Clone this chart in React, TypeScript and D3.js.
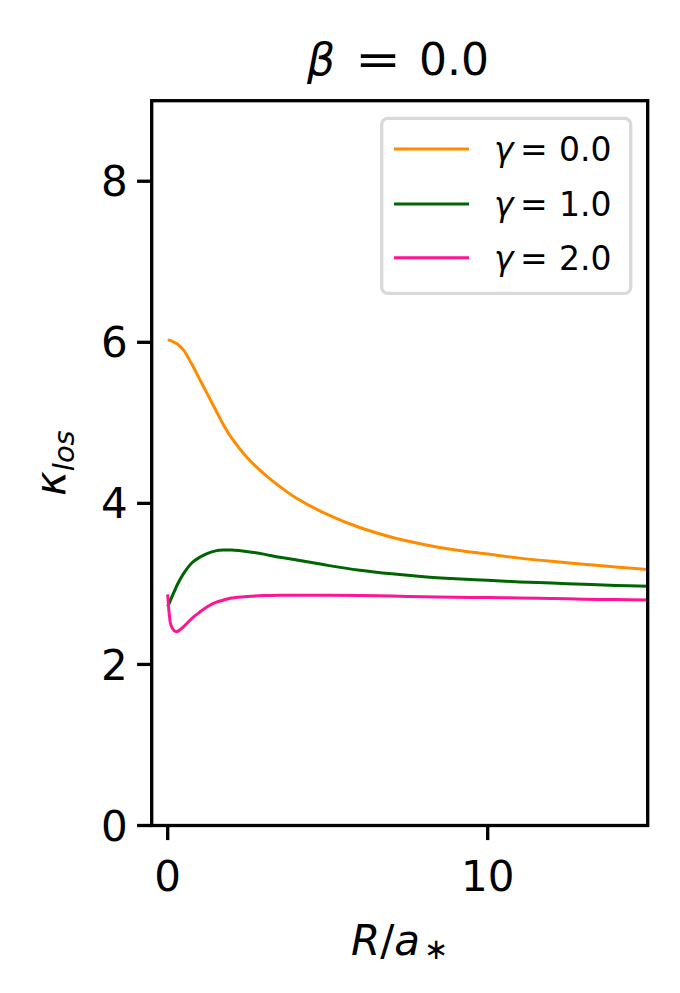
import * as d3 from "d3";

const rValues = [0, 0.05, 0.1, 0.2, 0.3, 0.5, 0.75, 1, 1.25, 1.5, 1.75, 2, 2.5, 3, 3.5, 4, 5, 6, 7, 8, 9, 10, 11, 12, 13, 14, 15];

const gamma0 = [6.03, 6.025, 6.02, 6.0, 5.98, 5.9, 5.73, 5.54, 5.35, 5.16, 4.97, 4.81, 4.56, 4.37, 4.21, 4.07, 3.86, 3.7, 3.58, 3.49, 3.42, 3.37, 3.32, 3.28, 3.245, 3.21, 3.18];
const gamma1 = [2.72, 2.76, 2.81, 2.9, 2.99, 3.13, 3.26, 3.33, 3.38, 3.41, 3.42, 3.42, 3.4, 3.37, 3.33, 3.3, 3.23, 3.17, 3.125, 3.09, 3.065, 3.045, 3.025, 3.01, 2.995, 2.98, 2.97];
const gamma2 = [2.87, 2.62, 2.49, 2.42, 2.41, 2.47, 2.57, 2.65, 2.72, 2.77, 2.8, 2.825, 2.845, 2.855, 2.86, 2.86, 2.86, 2.855, 2.85, 2.84, 2.835, 2.83, 2.825, 2.82, 2.81, 2.805, 2.8];

const seriesLabels = ["0.0", "1.0", "2.0"];
const seriesColors = ["#ff8c00", "#006400", "#ff1493"];
const xTicks = [0, 10];
const yTicks = [0, 2, 4, 6, 8];

const W = 680;
const H = 993;
const left = 151.7;
const right = 647.7;
const top = 100.7;
const bottom = 825.5;
const font = "'DejaVu Sans', sans-serif";

export default function App() {
  const x = d3.scaleLinear([-0.5, 15], [left, right]);
  const y = d3.scaleLinear([0, 9], [bottom, top]);
  const series = [gamma0, gamma1, gamma2];

  const line = d3
    .line<number>()
    .x((_, i) => x(rValues[i]))
    .y((d) => y(d))
    .curve(d3.curveCatmullRom.alpha(0.5));

  const legX = 381.7;
  const legY = 118.3;
  const legW = 249;
  const legH = 175;
  const rowY = [149, 204, 257.7];

  return (
    <svg
      width={W}
      height={H}
      style={{ position: "absolute", left: 0, top: 0, background: "white" }}
      fontFamily={font}
    >
      <rect width={W} height={H} fill="white" />
      <defs>
        <clipPath id="plot">
          <rect x={left} y={top} width={right - left} height={bottom - top} />
        </clipPath>
      </defs>

      <g clipPath="url(#plot)">
        {series.map((s, i) => (
          <path
            key={i}
            d={line(s) as string}
            fill="none"
            stroke={seriesColors[i]}
            strokeWidth={3}
          />
        ))}
      </g>

      {/* spines */}
      <rect
        x={left}
        y={top}
        width={right - left}
        height={bottom - top}
        fill="none"
        stroke="black"
        strokeWidth={3.3}
      />

      {/* x ticks */}
      {xTicks.map((t) => (
        <g key={t} transform={`translate(${x(t)},${bottom})`}>
          <line y2={14.6} stroke="black" strokeWidth={3.3} />
          <text y={65} textAnchor="middle" fontSize={42}>
            {t}
          </text>
        </g>
      ))}

      {/* y ticks */}
      {yTicks.map((t) => (
        <g key={t} transform={`translate(${left},${y(t)})`}>
          <line x2={-14.6} stroke="black" strokeWidth={3.3} />
          <text x={-24} dy="0.36em" textAnchor="end" fontSize={42}>
            {t}
          </text>
        </g>
      ))}

      {/* axis labels */}
      <text x={(left + right) / 2} y={955} textAnchor="middle" fontSize={42}>
        <tspan fontStyle="italic">R</tspan>
        <tspan>/</tspan>
        <tspan fontStyle="italic">a</tspan>
        <tspan fontSize={29} dy={4} dx={4}>∗</tspan>
      </text>
      <text
        transform={`translate(65,${(top + bottom) / 2}) rotate(-90)`}
        textAnchor="middle"
        fontSize={42}
      >
        <tspan fontStyle="italic">κ</tspan>
        <tspan fontStyle="italic" fontSize={29} dy={9}>los</tspan>
      </text>

      {/* title */}
      <text x={307} y={75} fontSize={44} fontStyle="italic">β</text>
      <text transform="translate(355,75) scale(1.25,1)" fontSize={44}>=</text>
      <text x={419} y={75} fontSize={44}>0.0</text>

      {/* legend */}
      <rect
        x={legX}
        y={legY}
        width={legW}
        height={legH}
        rx={6}
        fill="white"
        fillOpacity={0.8}
        stroke="#d9d9d9"
        strokeWidth={3.3}
      />
      {seriesLabels.map((lab, i) => (
        <g key={lab}>
          <line
            x1={394}
            x2={469}
            y1={rowY[i]}
            y2={rowY[i]}
            stroke={seriesColors[i]}
            strokeWidth={3}
          />
          <text y={rowY[i]} dy="0.36em" fontSize={33}>
            <tspan x={494} fontStyle="italic">γ</tspan>
            <tspan x={520}>=</tspan>
            <tspan x={559}>{lab}</tspan>
          </text>
        </g>
      ))}
    </svg>
  );
}
